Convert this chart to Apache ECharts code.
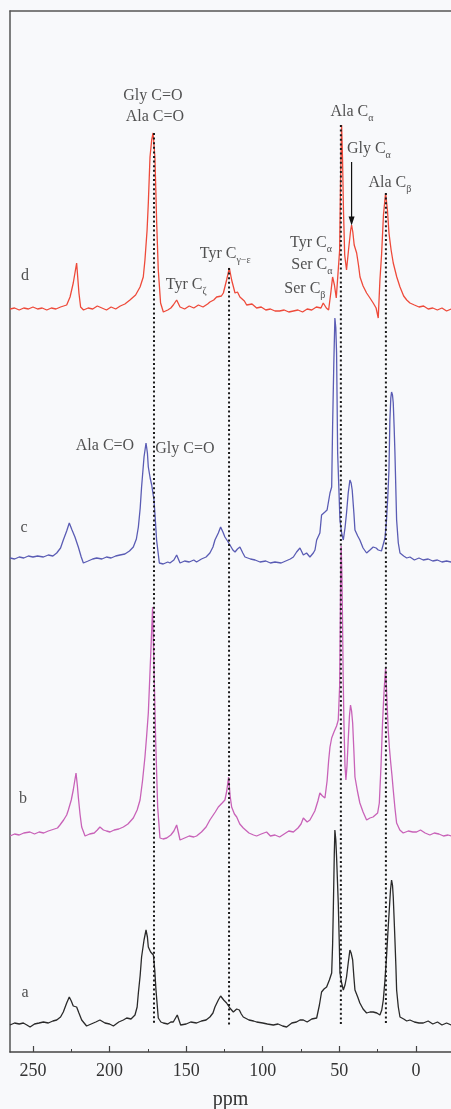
<!DOCTYPE html>
<html><head><meta charset="utf-8">
<script src="https://cdn.jsdelivr.net/npm/echarts@6/dist/echarts.min.js"></script>
<style>html,body{margin:0;padding:0;background:#f8f9fb}#c{width:451px;height:1109px}</style>
</head><body><div id="c"></div><script>
// ---- data: [ppm, intensity above own baseline] ----
const specD = [[265,1],[262,2],[259,0],[256,2],[253,1],[250,3],[247,1],[244,2],[241,0],[238,2],[235,1],[232,3],[230,4],[228,5],[225.8,13],[223.7,27],[221.5,47],[220,17],[218.9,3],[217,0],[214,2],[211,1],[208,4],[205,2],[202,0],[199,3],[196,1],[193,4],[190,6],[186.7,10],[183,15],[180.1,23],[178,33],[176.9,50],[175.5,80],[174.7,107],[173.6,153],[172.5,170],[171.6,177],[171,165],[170.4,153],[169.8,120],[169.3,90],[168.2,40],[166.7,7],[164.9,-2],[162,0],[160,2],[158.4,5],[156.2,10],[154,3],[151,1],[148,4],[145,2],[142,5],[139,3],[136,6],[134.5,8],[132,10],[130.1,13],[127,14],[125.7,17],[123.6,30],[121.8,42],[120.3,30],[118.1,17],[116.5,18],[114.9,13],[112,9],[110.5,5],[107,6],[104,2],[101,3],[98,0],[95,1],[92,-1],[89,-1],[86,0],[83,-2],[80,-1],[77,0],[74,-2],[71,1],[68,0],[65,3],[63.8,5],[62,2],[60.5,7],[58.5,2],[57,0],[55.5,18],[54.4,33],[53.2,25],[52,12],[50.7,12],[49.8,60],[49.2,130],[48.5,185],[47.9,150],[47.3,100],[46.5,55],[45.3,40],[44,60],[42.6,80],[42,85],[41.2,78],[40.3,65],[38.7,57],[37.5,45],[36.5,33],[34.5,24],[32.2,17],[30,12],[27.9,7],[26,2],[24.6,-8],[23.5,30],[22.4,56],[21.2,95],[19.8,117],[18.6,100],[17.6,77],[16.2,60],[14.8,47],[12.5,33],[10.4,23],[8,14],[6,10],[3.9,7],[1,5],[-2,3],[-5,4],[-8,1],[-11,2],[-14,0],[-17,2],[-20,-1],[-23,1],[-25,0]];

const specC = [[265,5],[262,4],[259,6],[256,5],[253,7],[250,6],[247,7],[243.2,6],[240,8],[237,7],[234.5,10],[232,15],[230.2,23],[228,32],[226.3,40],[224.5,33],[222.6,26],[220.4,16],[218.5,6],[217.1,0],[214,2],[211,4],[208.4,5],[205,4],[202,6],[199,5],[196,7],[193.2,8],[190,9],[187,12],[184.5,16],[182.5,24],[181.2,36],[180,55],[179.1,76],[177.5,106],[176.2,120],[175.3,110],[174.7,96],[173.5,85],[172.5,78],[171,63],[170.2,45],[169.3,23],[167.5,0],[165,-1],[162,1],[160.6,0],[158,3],[156.2,8],[154,0],[151,2],[148,1],[145,3],[143.2,1],[140,4],[137,6],[134.5,10],[132.5,16],[131.2,23],[129,30],[127.5,36],[126,31],[124.7,26],[123,22],[121.4,18],[119.5,13],[118.1,11],[116.5,14],[114.9,16],[113,10],[111.6,6],[108,4],[105,3],[101.8,1],[98,2],[95,0],[92,1],[88,0],[85,2],[82,4],[80,6],[77.9,11],[75.7,15],[73.5,8],[71.4,10],[69.2,6],[67,10],[65.9,13],[64.8,23],[62.7,30],[61.6,48],[60.5,50],[59.4,51],[58,53],[57.2,55],[56.1,70],[55,76],[54.4,136],[53.6,200],[52.9,245],[52.3,235],[51.8,210],[51.1,110],[49.6,43],[48.5,30],[47.4,23],[46.3,35],[45.3,50],[44.2,70],[43.1,83],[42.3,80],[41.6,73],[40.5,50],[39.8,33],[38,27],[36.6,23],[34.5,15],[32.2,10],[30,13],[27.9,16],[26,15],[24.6,13],[22.5,12],[21.3,13],[20.2,25],[19.2,43],[18.4,65],[17.6,93],[17,143],[16.4,165],[15.9,171],[15.3,168],[14.8,160],[14.2,135],[13.7,110],[12.6,43],[11.5,20],[10.4,10],[8,7],[6,5],[3.9,6],[1,3],[-2,5],[-4.8,3],[-8,4],[-11,2],[-14,3],[-17,1],[-20,2],[-23,1],[-25,2]];

const specB = [[265,0],[262,2],[259,1],[256,3],[252,4],[249,2],[246,4],[243,3],[240,5],[238.9,6],[236,7],[234,8],[232.4,11],[230,16],[228,21],[226.9,26],[225,36],[223.7,46],[221.9,63],[221,50],[220.4,39],[219.3,22],[218.2,9],[216,0],[213,2],[210,3],[208,6],[206.3,9],[204,6],[202,5],[199.7,4],[197,6],[194,7],[191,9],[188,12],[184.5,18],[182,26],[180.1,36],[178.5,55],[176.9,79],[175.8,100],[174.7,123],[173.2,179],[171.9,229],[171.5,200],[171,169],[169.9,96],[168.6,29],[167.1,-2],[165,-3],[162.7,-2],[160,1],[158,5],[156.2,11],[155,3],[154,-4],[151,-2],[148,0],[145,-1],[143.2,0],[140,4],[137,9],[134.5,16],[131,24],[129,29],[126.5,33],[124.7,36],[123.5,45],[122.3,59],[121.3,40],[120.3,29],[118.5,22],[117,19],[115,12],[112.7,8],[109,3],[106,1],[104,0],[101,2],[97.5,4],[95,0],[92,1],[89,-1],[86,2],[83,5],[80,4],[77,8],[75,12],[73.5,18],[71,14],[69.2,16],[66,25],[64,35],[62.7,43],[61,40],[59.4,38],[58,55],[57,75],[56.1,89],[55,98],[53.5,104],[52.9,106],[51.8,110],[50.7,116],[49.8,150],[49.2,250],[48.8,290],[48.3,260],[47.9,213],[47.5,160],[47,113],[46.3,70],[45.7,56],[45,70],[44.2,96],[43.4,120],[42.7,131],[42,125],[41.3,113],[40.5,85],[39.8,59],[38.2,45],[36.6,33],[34.5,24],[32.2,16],[30,18],[28,19],[26.8,19],[25,23],[23.9,33],[22.8,70],[21.8,113],[20.8,145],[19.8,168],[19,140],[18.1,106],[17.3,88],[16.5,74],[15.6,60],[14.8,46],[13.7,28],[12.6,13],[10.5,6],[8.3,3],[5,5],[2,4],[-0.4,4],[-3,6],[-6,3],[-9.1,1],[-12,3],[-15,2],[-18,0],[-21,1],[-23,0],[-25,1]];

const specA = [[265,0],[262,2],[259,1],[256.3,2],[254,0],[251.9,-2],[249,1],[246,2],[243.2,3],[240,2],[237,4],[234.5,5],[232,8],[230.2,13],[228,22],[226.3,28],[225,24],[223.7,19],[221.5,18],[220,12],[218.2,5],[215,-1],[212,1],[209,3],[206.3,5],[203,2],[200,1],[197.5,-1],[194,3],[191,5],[188.8,7],[186,6],[183.4,10],[182,18],[181.2,32],[180,50],[179.1,68],[177.5,85],[176.2,95],[175.3,88],[174.7,78],[173.2,73],[171.4,70],[170.5,55],[169.7,35],[168.2,7],[166.5,3],[164.9,2],[162,1],[160,3],[158.4,3],[155.8,10],[153.6,0],[150,1],[147,3],[143.2,2],[140,4],[137,5],[134.5,8],[132.5,12],[131.2,18],[129,25],[127.5,29],[125.5,25],[123.6,22],[121.5,17],[119.2,13],[117,16],[115.3,15],[114,11],[112.7,8],[109,5],[106,4],[104,3],[100,2],[97,1],[93.1,0],[90,1],[87,-1],[84.4,-2],[81,2],[78,3],[75.7,5],[73.5,5],[71,3],[68,6],[64.8,7],[63,20],[61.6,33],[60,36],[58.3,38],[56.5,45],[55,52],[54.4,80],[53.9,118],[53.3,170],[52.9,195],[52.3,185],[51.8,168],[50.7,122],[50,80],[49.6,52],[48.5,42],[47.4,35],[46.3,40],[45.3,48],[44.2,62],[43.1,75],[42.3,72],[41.3,65],[40.5,48],[39.8,35],[38,28],[36.6,22],[34.5,16],[32.2,12],[30,13],[27.9,13],[25.5,12],[23.5,10],[22.3,15],[21.3,25],[20.2,45],[19.2,68],[18.2,95],[17.4,115],[16.6,135],[15.9,145],[15.3,140],[14.8,128],[14.2,105],[13.7,85],[13.1,60],[12.6,35],[11.5,18],[10.4,8],[8,6],[6,4],[3.9,5],[1,3],[-2,2],[-4.8,2],[-8,4],[-11,1],[-14.1,3],[-17,0],[-20,2],[-23,0],[-25,1]];

const spectrumNames = ['a', 'b', 'c', 'd'];
const majorTicks = [0, 50, 100, 150, 200, 250];
const minorTicks = [25, 75, 125, 175, 225];
const refPpm = [171, 122, 49, 19.6];   // dotted reference lines

// ---- layout ----
const OFFSET = { a: 27, b: 216, c: 489, d: 742 };
const COLORS = { a: '#2a2a2a', b: '#c862b8', c: '#5a5cb4', d: '#ee4a3a' };
const SPECS = { a: specA, b: specB, c: specC, d: specD };
const SERIF = 'Liberation Serif, Times New Roman, serif';
const X_MIN = -22.9, X_MAX = 265;

// annotations [text(rich), ppm, height in stacked units]
const annotations = [
  ['{n|Gly C=O}', 171.7, 956],
  ['{n|Ala C=O}', 170.4, 935],
  ['{n|Tyr C}{s|ζ}', 150, 767],
  ['{n|Tyr C}{s|γ−ε}', 124.5, 798],
  ['{n|Tyr C}{s|α}', 68.5, 809],
  ['{n|Ser C}{s|α}', 67.9, 787],
  ['{n|Ser C}{s|β}', 72.5, 763],
  ['{n|Ala C}{s|α}', 41.8, 940],
  ['{n|Gly C}{s|α}', 30.7, 903],
  ['{n|Ala C}{s|β}', 17.0, 869],
  ['{n|Ala C=O}', 203, 606],
  ['{n|Gly C=O}', 150.8, 603],
  ['{n|d}', 255.2, 776],
  ['{n|c}', 255.9, 524],
  ['{n|b}', 256.5, 253],
  ['{n|a}', 255.2, 59]
];

function peakNear(spec, ppm) {
  let best = -Infinity;
  spec.forEach(p => { if (Math.abs(p[0] - ppm) <= 1.5 && p[1] > best) best = p[1]; });
  return best;
}

const series = [];
spectrumNames.forEach(k => {
  series.push({
    type: 'line', name: k, xAxisIndex: 0, yAxisIndex: 0,
    data: SPECS[k].map(p => [p[0], p[1] + OFFSET[k]]),
    showSymbol: false, symbol: 'none', silent: true, clip: true,
    lineStyle: { color: COLORS[k], width: 1.3 }, z: 2
  });
});
refPpm.forEach(p => {
  series.push({
    type: 'line', data: [[p, OFFSET.d + peakNear(specD, p)], [p, OFFSET.a]],
    symbol: 'none', silent: true,
    lineStyle: { color: '#1a1a1a', width: 2, type: [2, 2.6] }, z: 5
  });
});
// arrow to Gly Ca
series.push({
  type: 'line', silent: true, z: 6,
  data: [
    { value: [42, 890], symbol: 'none' },
    { value: [42, 831], symbol: 'triangle', symbolSize: [6, 9], symbolRotate: 180 }
  ],
  showSymbol: true,
  itemStyle: { color: '#111' },
  lineStyle: { color: '#111', width: 1.2 }
});
series.push({
  type: 'scatter', symbolSize: 0, silent: true, z: 10,
  data: annotations.map(a => ({ value: [a[1], a[2]], label: { formatter: a[0] } })),
  label: {
    show: true, position: 'inside',
    rich: {
      n: { fontFamily: SERIF, fontSize: 16, color: '#262626' },
      s: { fontFamily: SERIF, fontSize: 10, color: '#262626', verticalAlign: 'bottom', lineHeight: 22 }
    }
  }
});

const chart = echarts.init(document.getElementById('c'), null, { renderer: 'canvas' });
chart.setOption({
  animation: false,
  backgroundColor: '#f8f9fb',
  grid: { left: 10, top: 11, right: 0, bottom: 57, outerBoundsMode: 'none', containLabel: false },
  xAxis: [{
    type: 'value', inverse: true, min: X_MIN, max: X_MAX, position: 'bottom',
    name: 'ppm', nameLocation: 'middle', nameGap: 38,
    nameTextStyle: { fontFamily: SERIF, fontSize: 20, color: '#333' },
    axisLine: { show: true, onZero: false, lineStyle: { color: '#444', width: 1.5 } },
    axisTick: { show: true, inside: true, length: 6, lineStyle: { color: '#444', width: 1.2 }, customValues: majorTicks },
    axisLabel: { show: true, margin: 10, fontFamily: SERIF, fontSize: 18, color: '#333', customValues: majorTicks },
    splitLine: { show: false }
  }, {
    type: 'value', inverse: true, min: X_MIN, max: X_MAX, position: 'bottom', offset: 0,
    axisLine: { show: false, onZero: false },
    axisTick: { show: true, inside: true, length: 3, lineStyle: { color: '#444', width: 1 }, customValues: minorTicks },
    axisLabel: { show: false },
    splitLine: { show: false }
  }, {
    type: 'value', inverse: true, min: X_MIN, max: X_MAX, position: 'top', offset: 0,
    axisLine: { show: true, onZero: false, lineStyle: { color: '#555', width: 1.5 } },
    axisTick: { show: false }, axisLabel: { show: false }, splitLine: { show: false }
  }],
  yAxis: {
    type: 'value', min: 0, max: 1041, position: 'left',
    axisLine: { show: true, onZero: false, lineStyle: { color: '#555', width: 1.5 } },
    axisTick: { show: false }, axisLabel: { show: false }, splitLine: { show: false }
  },
  series: series
});
</script></body></html>
